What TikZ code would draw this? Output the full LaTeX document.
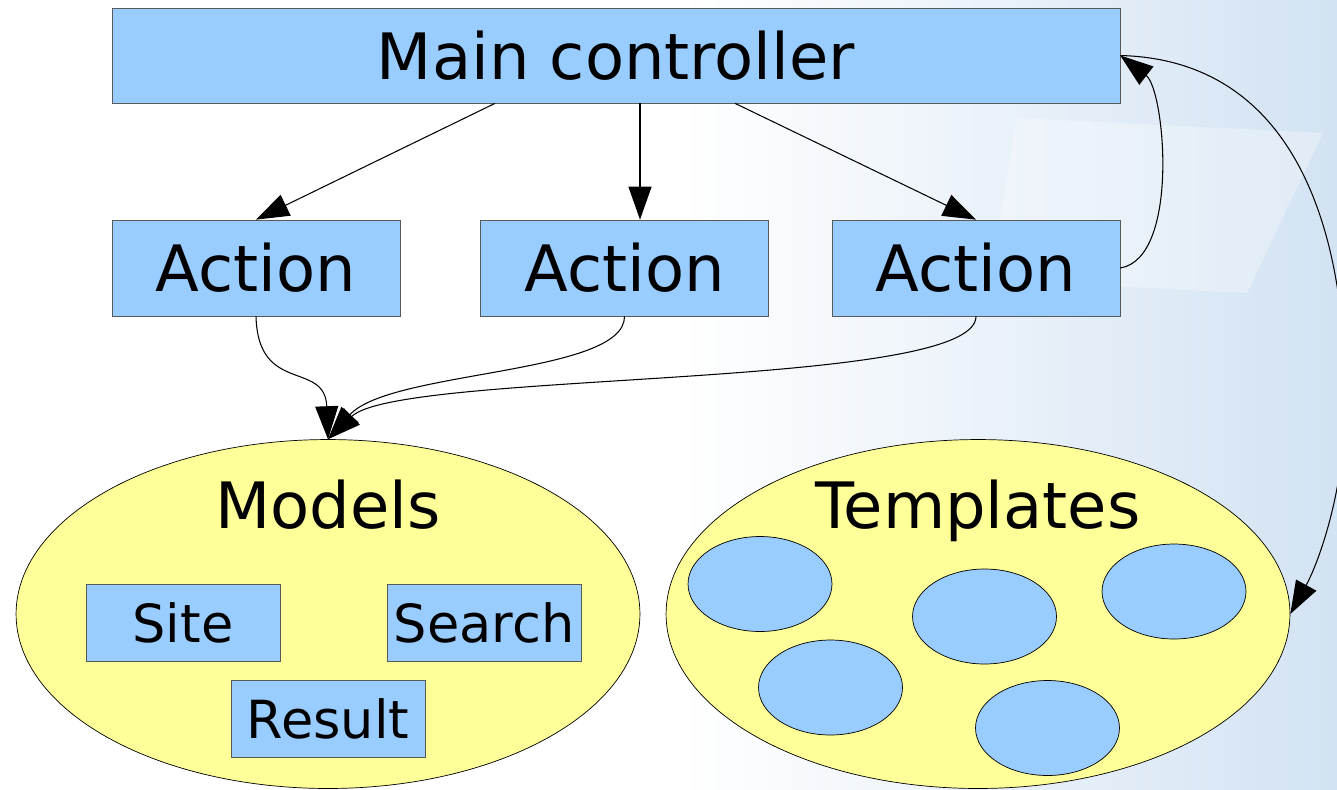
\documentclass[tikz,border=0pt]{standalone}
\usepackage{fontspec}
\setmainfont{DejaVu Sans}
\usetikzlibrary{arrows.meta}
\usetikzlibrary{shapes.geometric}

\definecolor{boxblue}{HTML}{99CCFF}
\definecolor{padyellow}{HTML}{FFFF99}
\definecolor{bgblue}{HTML}{D3E3F3}

\begin{document}
\begin{tikzpicture}[x=0.02cm, y=-0.02cm,
      box/.style={rectangle, draw=black!65, fill=boxblue, inner sep=0pt,
         font=\fontsize{36.4}{40}\selectfont},
      smallbox/.style={box, minimum width=3.88cm, minimum height=1.54cm,
         font=\fontsize{29.9}{34}\selectfont},
      pad/.style={ellipse, draw=black, fill=padyellow, inner sep=0pt,
         minimum width=12.48cm, minimum height=6.98cm},
      tpl/.style={ellipse, draw=black, fill=boxblue, inner sep=0pt,
         minimum width=2.88cm, minimum height=1.9cm},
      arr/.style={-{Triangle[length=0.66cm, width=0.46cm]}, line width=0.6pt}]
      \useasboundingbox (0,0) rectangle (1337,789);

      % background
      \fill [white] (0,0) rectangle (1337,789);
      \shade [left color=white, right color=bgblue] (680,0) rectangle (1337,789);
      \fill [white, opacity=0.3] (1017,118) -- (1323,133) -- (1247,293) -- (990,280) -- cycle;

      \node (main) at (616,55.5) [box, minimum width=20.16cm, minimum height=1.9cm]
         {Main controller};
      \node (act1) at (256,268) [box, minimum width=5.76cm, minimum height=1.92cm] {Action};
      \node (act2) at (624.5,268) [box, minimum width=5.76cm, minimum height=1.92cm] {Action};
      \node (act3) at (976,268) [box, minimum width=5.76cm, minimum height=1.92cm] {Action};

      \node (models) at (328,614) [pad] {};
      \node (templates) at (978,614) [pad] {};
      \node (modelsText) at (328,528) [anchor=base, font=\fontsize{36.4}{40}\selectfont] {Models};
      \node (templatesText) at (978,528) [anchor=base, font=\fontsize{36.4}{40}\selectfont] {Templates};

      \node (site) at (183,622.5) [smallbox] {Site};
      \node (search) at (484,622.5) [smallbox] {Search};
      \node (result) at (328,718.5) [smallbox] {Result};

      \node (tpl1) at (760,584) [tpl] {};
      \node (tpl2) at (984.5,616.5) [tpl] {};
      \node (tpl3) at (1174,591.5) [tpl] {};
      \node (tpl4) at (830.5,687.5) [tpl] {};
      \node (tpl5) at (1047.5,728) [tpl] {};

      \draw [arr] (main.south -| 495,0) -- (act1.north);
      \draw [arr] (main.south -| 640,0) -- (act2.north -| 640,0);
      \draw [arr] (main.south -| 735,0) -- (act3.north);

      \draw [arr] (act1.south) .. controls (258,395) and (325,360) .. (models.north);
      \draw [arr] (act2.south) .. controls (625,375) and (390,370) .. (models.north);
      \draw [arr] (act3.south) .. controls (976,390) and (400,370) .. (models.north);

      \draw [arr] (act3.east) .. controls (1180,258) and (1165,90) .. (main.east);
      \draw [arr] (main.east) .. controls (1300,60) and (1345,240) .. (1345,390)
         .. controls (1348,480) and (1320,560) .. (templates.east);
   \end{tikzpicture}
\end{document}
